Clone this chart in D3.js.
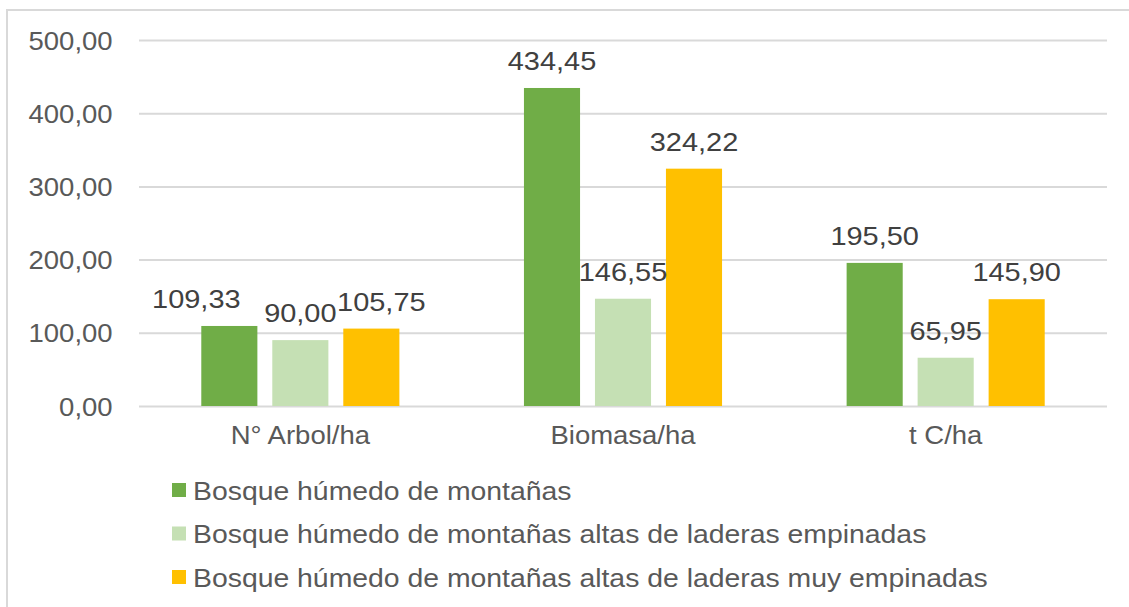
<!DOCTYPE html>
<meta charset="utf-8">
<style>
  body { margin: 0; background: #fff; }
  text { font-family: "Liberation Sans", Arial, sans-serif; }
</style>
<body>
<div id="chart"></div>
<script src="https://d3js.org/d3.v7.min.js"></script>
<script>

var categories = ["N° Arbol/ha", "Biomasa/ha", "t C/ha"];
var seriesNames = [
  "Bosque húmedo de montañas",
  "Bosque húmedo de montañas altas de laderas empinadas",
  "Bosque húmedo de montañas altas de laderas muy empinadas"
];
var montanas = [109.33, 434.45, 195.50];
var montanasAltas = [90.00, 146.55, 65.95];
var montanasMuyAltas = [105.75, 324.22, 145.90];
var yTicks = [0, 100, 200, 300, 400, 500];

var colors = ["#70ad47", "#c5e0b4", "#ffc000"];
var allValues = [montanas, montanasAltas, montanasMuyAltas];
var sx = 1.1; // the picture looks a bit stretched sideways
var sxWide = 1.135; // labels and legend are stretched a little more

var W = 1129, H = 607;
var svg = d3.select("#chart").append("svg")
  .attr("width", W).attr("height", H);

// outer chart frame
svg.append("rect")
  .attr("x", 7).attr("y", 10)
  .attr("width", 1150).attr("height", 650)
  .attr("fill", "#fff")
  .attr("stroke", "#d9d9d9")
  .attr("stroke-width", 2);

var x = d3.scaleBand().domain(categories).range([139, 1107]);
var inner = d3.scaleBand().domain(d3.range(3))
  .range([-106.5, 106.5]).paddingInner(0.21).paddingOuter(0.105);
var y = d3.scaleLinear().domain([0, 500]).range([406, 40]);

var fmt = d3.formatLocale({decimal: ",", thousands: ".", grouping: [3], currency: ["", ""]}).format(".2f");

// y axis + grid
var yAxis = svg.append("g")
  .attr("transform", "translate(139,0)")
  .call(d3.axisLeft(y).tickValues(yTicks).tickSize(-968).tickPadding(24).tickFormat(fmt));
yAxis.select(".domain").remove();
yAxis.selectAll(".tick line").attr("stroke", "#d9d9d9").attr("stroke-width", 2);
yAxis.selectAll(".tick text")
  .attr("fill", "#595959")
  .style("font-size", "25px")
  .attr("dy", "0.36em")
  .attr("transform", "scale(" + sx + ",1)");

// bars
var rows = [];
categories.forEach(function(c, i) {
  allValues.forEach(function(vals, s) {
    rows.push({cat: c, ci: i, s: s, v: vals[i]});
  });
});

svg.append("g").selectAll("rect")
  .data(rows)
  .enter().append("rect")
    .attr("x", function(d) { return x(d.cat) + x.bandwidth() / 2 + inner(d.s); })
    .attr("y", function(d) { return y(d.v); })
    .attr("width", inner.bandwidth())
    .attr("height", function(d) { return y(0) - y(d.v); })
    .attr("fill", function(d) { return colors[d.s]; });

// value labels (first group was moved by hand in the original)
var labelNudge = {"0-0": -33, "0-2": 10};
svg.append("g").selectAll("text")
  .data(rows)
  .enter().append("text")
    .attr("text-anchor", "middle")
    .attr("fill", "#404040")
    .style("font-size", "25.5px")
    .attr("transform", function(d) {
      var cx = x(d.cat) + x.bandwidth() / 2 + inner(d.s) + inner.bandwidth() / 2 + (labelNudge[d.ci + "-" + d.s] || 0);
      return "translate(" + cx + "," + (y(d.v) - 18) + ") scale(" + sxWide + ",1)";
    })
    .text(function(d) { return fmt(d.v); });

// category labels
svg.append("g").selectAll("text")
  .data(categories)
  .enter().append("text")
    .attr("text-anchor", "middle")
    .attr("fill", "#595959")
    .style("font-size", "25px")
    .attr("transform", function(d) {
      return "translate(" + (x(d) + x.bandwidth() / 2) + ",444) scale(" + sx + ",1)";
    })
    .text(function(d) { return d; });

// legend
var legend = svg.append("g").selectAll("g")
  .data(seriesNames)
  .enter().append("g")
    .attr("transform", function(d, i) { return "translate(172," + (490 + i * 43.5) + ")"; });
legend.append("rect")
  .attr("x", 0).attr("y", -7)
  .attr("width", 14).attr("height", 14)
  .attr("fill", function(d, i) { return colors[i]; });
legend.append("text")
  .attr("fill", "#595959")
  .style("font-size", "25px")
  .attr("transform", "translate(21,9.5) scale(" + sxWide + ",1)")
  .text(function(d) { return d; });

</script>
</body>
